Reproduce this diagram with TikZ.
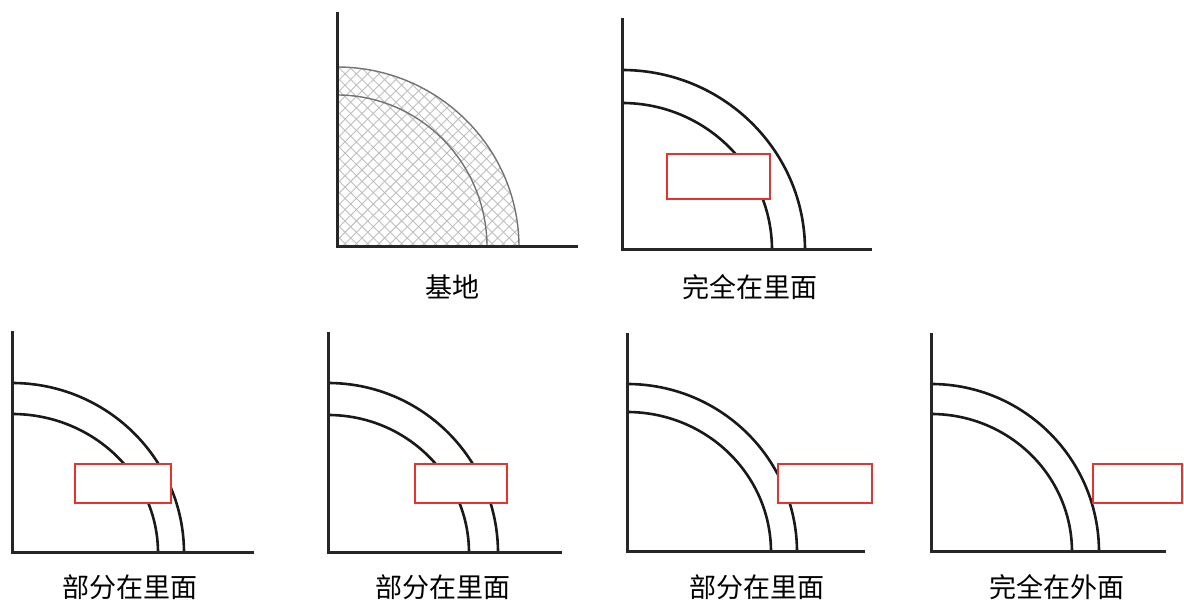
\documentclass[tikz,border=0pt]{standalone}
\usepackage{fontspec}
\newfontfamily\cjk{Noto Sans CJK SC}
\usetikzlibrary{patterns.meta}
\definecolor{boxred}{HTML}{E8322E}
\tikzset{
  axis/.style={line width=3pt, draw=black!85},
  ring/.style={line width=2.6pt, draw=black!90},
  grayring/.style={line width=1.4pt, draw=black!55},
  probe/.style={line width=2.4pt, draw=boxred, fill=white},
  lbl/.style={font=\cjk\fontsize{27}{27}\selectfont, text=black, inner sep=0pt}
}
\begin{document}
\begin{tikzpicture}[x=1pt,y=1pt]
\useasboundingbox (0,0) rectangle (1184,600);
\fill[white] (0,0) rectangle (1184,600);

% ---------- Panel 1: base ----------
\fill[pattern={Lines[angle=45,distance=8pt,line width=0.9pt]}, pattern color=black!25]
  (337,353) -- (337,533) arc[start angle=90,end angle=0,x radius=182,y radius=180] -- cycle;
\fill[pattern={Lines[angle=-45,distance=8pt,line width=0.9pt]}, pattern color=black!25]
  (337,353) -- (337,533) arc[start angle=90,end angle=0,x radius=182,y radius=180] -- cycle;
\draw[grayring] (337,533) arc[start angle=90,end angle=0,x radius=182,y radius=180];
\draw[grayring] (337,505) arc[start angle=90,end angle=0,x radius=150,y radius=152];
\draw[axis] (337,588) -- (337,353) -- (578,353);
\node[lbl] (l1) at (452,313) {基地};

% ---------- Panel 2 ----------
\draw[ring] (622,530) arc[start angle=90,end angle=0,x radius=183,y radius=180];
\draw[ring] (622,497) arc[start angle=90,end angle=0,x radius=150,y radius=147];
\draw[axis] (622,582) -- (622,350) -- (872,350);
\draw[probe] (667,401) rectangle (770,446);
\node[lbl] (l2) at (750,313) {完全在里面};

% ---------- Panel 3 ----------
\draw[ring] (12,217) arc[start angle=90,end angle=0,x radius=172,y radius=170];
\draw[ring] (12,186) arc[start angle=90,end angle=0,x radius=146,y radius=139];
\draw[axis] (12,269) -- (12,47) -- (254,47);
\draw[probe] (75,97) rectangle (171,136);
\node[lbl] (l3) at (130,13) {部分在里面};

% ---------- Panel 4 ----------
\draw[ring] (328,217) arc[start angle=90,end angle=0,x radius=170,y radius=170];
\draw[ring] (328,185) arc[start angle=90,end angle=0,x radius=141,y radius=138];
\draw[axis] (328,268) -- (328,47) -- (562,47);
\draw[probe] (415,97) rectangle (507,136);
\node[lbl] (l4) at (443,13) {部分在里面};

% ---------- Panel 5 ----------
\draw[ring] (627,216) arc[start angle=90,end angle=0,x radius=170,y radius=168];
\draw[ring] (627,188) arc[start angle=90,end angle=0,x radius=144,y radius=140];
\draw[axis] (627,267) -- (627,48) -- (865,48);
\draw[probe] (778,97) rectangle (872,136);
\node[lbl] (l5) at (757,13) {部分在里面};

% ---------- Panel 6 ----------
\draw[ring] (931,216) arc[start angle=90,end angle=0,x radius=168,y radius=168];
\draw[ring] (931,186) arc[start angle=90,end angle=0,x radius=141,y radius=138];
\draw[axis] (931,267) -- (931,48) -- (1166,48);
\draw[probe] (1093,97) rectangle (1182,136);
\node[lbl] (l6) at (1057,13) {完全在外面};
\end{tikzpicture}
\end{document}
